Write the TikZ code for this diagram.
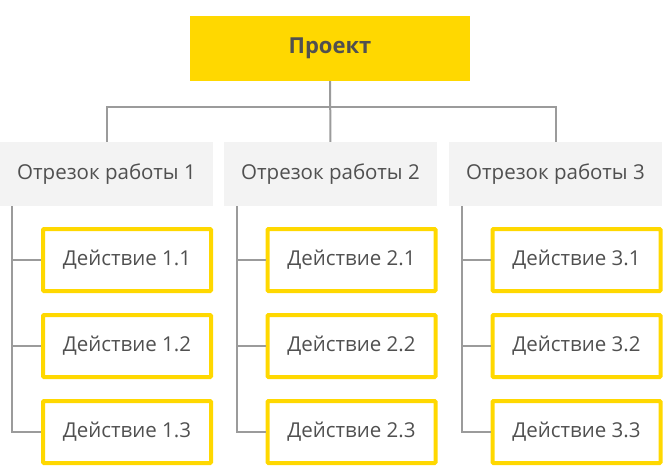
\documentclass[tikz,border=0pt]{standalone}
\usepackage{fontspec}
\setmainfont{Open Sans}
\usepackage{tikz}
\definecolor{gold}{HTML}{FFD800}
\definecolor{paper}{HTML}{F3F3F3}
\definecolor{wire}{HTML}{9B9B9B}
\definecolor{ink}{HTML}{505050}

\begin{document}
\begin{tikzpicture}[x=1pt,y=-1pt,
		project/.style={fill=gold,minimum width=280pt,minimum height=65pt,inner sep=0pt,text=ink,font=\fontsize{22}{26}\selectfont\bfseries},
		segment/.style={fill=paper,minimum width=213pt,minimum height=64pt,inner sep=0pt,text=ink,font=\fontsize{20.5}{24}\selectfont},
		action/.style={draw=gold,line width=4pt,rounded corners=1pt,minimum width=168pt,minimum height=62pt,inner sep=0pt,text=ink,font=\fontsize{20.5}{24}\selectfont},
		link/.style={draw=wire,line width=2pt}]
			\useasboundingbox (0,0) rectangle (671,471);
			
			\node[project] (p)at(330,48.5) {Проект};
			
			\node[segment] (s1)at(106.5,174) {Отрезок работы 1};
			\node[segment] (s2)at(330.5,174) {Отрезок работы 2};
			\node[segment] (s3)at(555.5,174) {Отрезок работы 3};
			
			\node[action] (a11)at(127,260) {Действие 1.1};
			\node[action] (a12)at(127,346) {Действие 1.2};
			\node[action] (a13)at(127,432) {Действие 1.3};
			\node[action] (a21)at(351.5,260) {Действие 2.1};
			\node[action] (a22)at(351.5,346) {Действие 2.2};
			\node[action] (a23)at(351.5,432) {Действие 2.3};
			\node[action] (a31)at(576.5,260) {Действие 3.1};
			\node[action] (a32)at(576.5,346) {Действие 3.2};
			\node[action] (a33)at(576.5,432) {Действие 3.3};
			
			\coordinate (hub)at(330.5,107);
			\coordinate (b1)at(12,206);
			\coordinate (b2)at(237,206);
			\coordinate (b3)at(462,206);
			
			\draw[link] (p) -- (s2);
			\draw[link] (s1.north) |- (hub) -| (s3.north);
			
			\draw[link] (b1) |- (a13.west);
			\draw[link] (b1 |- a11.west) -- (a11.west);
			\draw[link] (b1 |- a12.west) -- (a12.west);
			\draw[link] (b2) |- (a23.west);
			\draw[link] (b2 |- a21.west) -- (a21.west);
			\draw[link] (b2 |- a22.west) -- (a22.west);
			\draw[link] (b3) |- (a33.west);
			\draw[link] (b3 |- a31.west) -- (a31.west);
			\draw[link] (b3 |- a32.west) -- (a32.west);
		\end{tikzpicture}
\end{document}
